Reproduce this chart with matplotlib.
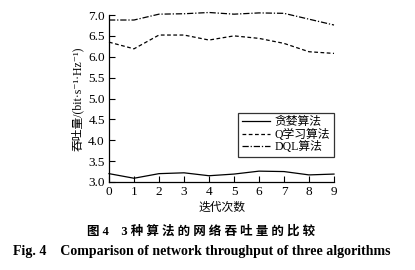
import matplotlib
matplotlib.use("Agg")
import matplotlib.pyplot as plt

plt.rcParams['font.family'] = ['Liberation Serif', 'Noto Sans CJK SC', 'DejaVu Serif']

iterations = [0, 1, 2, 3, 4, 5, 6, 7, 8, 9]
greedy = [3.20, 3.09, 3.20, 3.22, 3.15, 3.19, 3.26, 3.25, 3.17, 3.19]
qlearn = [6.35, 6.19, 6.52, 6.52, 6.40, 6.50, 6.44, 6.32, 6.12, 6.08]
dql = [6.88, 6.88, 7.02, 7.03, 7.06, 7.02, 7.05, 7.04, 6.90, 6.76]
labels = ['贪婪算法', 'Q学习算法', 'DQL算法']
yticks = [3.0, 3.5, 4.0, 4.5, 5.0, 5.5, 6.0, 6.5, 7.0]

fig = plt.figure(figsize=(4.15, 2.7), dpi=100)
ax = fig.add_axes([109/415, 1-182/270, 225/415, 167/270])

lw = 0.9
ax.plot(iterations, greedy, color='black', lw=lw, ls='-', label=labels[0], clip_on=False)
ax.plot(iterations, qlearn, color='black', lw=lw, ls=(0, (3, 2)), label=labels[1], clip_on=False)
ax.plot(iterations, dql, color='black', lw=lw, ls=(0, (5, 1.5, 1, 1.5)), label=labels[2], clip_on=False)

ax.set_xlim(0, 9)
ax.set_ylim(3.0, 7.0)
ax.set_xticks(iterations)
ax.set_yticks(yticks)
ax.set_yticklabels([f'{v:.1f}' for v in yticks])
ax.spines['top'].set_visible(False)
ax.spines['right'].set_visible(False)
for s in ['left', 'bottom']:
    ax.spines[s].set_linewidth(0.9)
ax.tick_params(direction='in', length=4, width=0.8, labelsize=9.5, pad=3)

ax.set_xlabel('迭代次数', fontsize=8.5, labelpad=3)
ax.set_ylabel('吞吐量/(bit·s\u207b\u00b9·Hz\u207b\u00b9)', fontsize=8.5, labelpad=3)

leg = ax.legend(loc='lower right', bbox_to_anchor=(1.0, 0.15), fontsize=8.5,
                frameon=True, fancybox=False, edgecolor='black', handlelength=2.4,
                handletextpad=0.4, borderpad=0.3, labelspacing=0.05, borderaxespad=0)
leg.get_frame().set_linewidth(0.9)

fig.text(0.484, 1-232/270, '图 4    3 种 算 法 的 网 络 吞 吐 量 的 比 较', ha='center', va='center',
         fontsize=9, fontweight='bold')
fig.text(0.486, 1-252/270, 'Fig. 4    Comparison of network throughput of three algorithms',
         ha='center', va='center', fontsize=10, fontweight='bold')

fig.savefig('out.png', dpi=100)
